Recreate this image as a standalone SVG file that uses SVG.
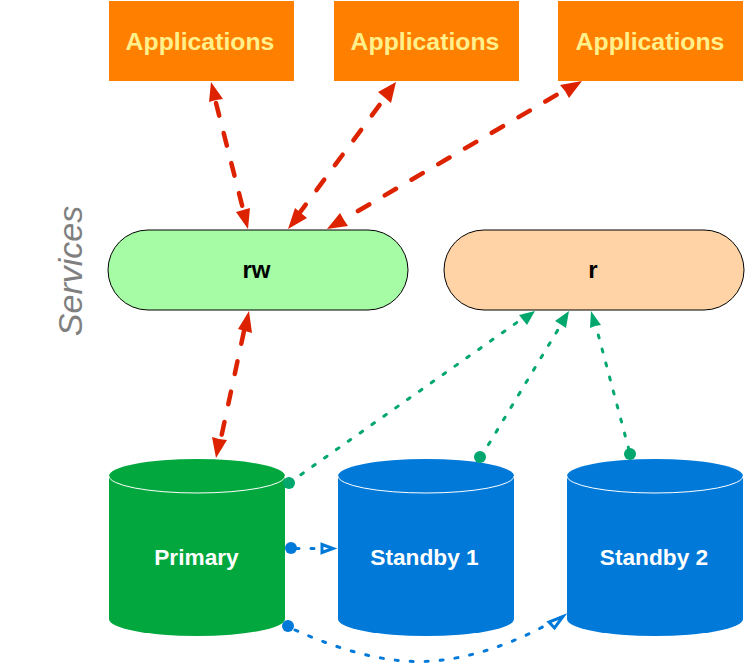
<svg xmlns="http://www.w3.org/2000/svg" width="745" height="664" viewBox="0 0 745 664">
<style>
text{font-family:"Liberation Sans",Arial,sans-serif;font-weight:bold;text-anchor:middle}
.app rect{fill:#ff7f00}
.app text{fill:#fff08c;font-size:24.800px}
.pill{stroke:#000;stroke-width:1}
.lbl{font-size:22.700px;fill:#fff}
.cap{fill:none;stroke:#fff;stroke-width:1}
.red{fill:none;stroke:#dd2200;stroke-width:4.500;stroke-dasharray:13 18;stroke-linecap:round}
.rh{fill:#dd2200}
.grn{fill:none;stroke:#02a76d;stroke-width:3;stroke-dasharray:3 11.500;stroke-linecap:round}
.gh{fill:#02a76d}
.blu{fill:none;stroke:#0079d9;stroke-width:3;stroke-dasharray:3 12;stroke-linecap:round}
.bh{fill:#fff;stroke:#0079d9;stroke-width:3}
</style>
<rect width="745" height="664" fill="#fff"/>
<g id="app1" class="app"><rect x="109" y="1" width="185" height="80"/><text x="200" y="50">Applications</text></g>
<g id="app2" class="app"><rect x="334" y="1" width="185" height="80"/><text x="425" y="50">Applications</text></g>
<g id="app3" class="app"><rect x="558" y="1" width="185" height="80"/><text x="650" y="50">Applications</text></g>
<g id="rw"><rect class="pill" x="108" y="230" width="300" height="80" rx="40" fill="#a5fca5"/><text x="256.500" y="278" font-size="24">rw</text></g>
<g id="r"><rect class="pill" x="444" y="230" width="300" height="80" rx="40" fill="#ffd3a6"/><text x="593" y="278" font-size="24">r</text></g>
<g id="services"><text transform="translate(82 271) rotate(-90)" style="font-weight:normal;font-style:italic;fill:#808080" font-size="34">Services</text></g>
<g id="primary"><path d="M109 476a88 17 0 0 1 176 0V619a88 17 0 0 1-176 0Z" fill="#02a83e"/><path class="cap" d="M109 476a88 17 0 0 0 176 0"/><text class="lbl" x="196.500" y="565">Primary</text></g>
<g id="standby1"><path d="M338 476a88 17 0 0 1 176 0V619a88 17 0 0 1-176 0Z" fill="#0079d9"/><path class="cap" d="M338 476a88 17 0 0 0 176 0"/><text class="lbl" x="424.500" y="565">Standby 1</text></g>
<g id="standby2"><path d="M567 476a88 17 0 0 1 176 0V619a88 17 0 0 1-176 0Z" fill="#0079d9"/><path class="cap" d="M567 476a88 17 0 0 0 176 0"/><text class="lbl" x="654" y="565">Standby 2</text></g>
<g id="connectors">
<path class="red" d="M216 103 243 209"/><path class="rh" d="M211 82 223 99 216 100 209 102ZM248 229 236 212 243 210 250 208Z"/>
<path class="red" d="M298 215 384 99"/><path class="rh" d="M396 82 391 103 384 97 378 92ZM288 229 295 208 301 213 307 218Z"/>
<path class="red" d="M358 211 565 90"/><path class="rh" d="M582 81 569 98 565 91 560 85ZM327 229 340 213 344 220 348 226Z"/>
<path class="red" d="M244 331 221 438"/><path class="rh" d="M249 311 252 333 245 331 238 329ZM216 458 212 437 219 439 227 440Z"/>
<path class="grn" d="M289 483 519 321"/><path class="gh" d="M535 311 519 315 523 320 527 325Z"/><circle class="gh" cx="289" cy="483" r="6"/>
<path class="grn" d="M481 457 559 328"/><path class="gh" d="M569 311 566 328 560 324 555 321Z"/><circle class="gh" cx="480" cy="457" r="6"/>
<path class="grn" d="M629 450 597 330"/><path class="gh" d="M591 311 601 325 595 326 590 328Z"/><circle class="gh" cx="630" cy="454" r="6"/>
<circle cx="291" cy="548" r="6" fill="#0079d9"/>
<path class="blu" d="M296 548.500H318"/><path class="bh" d="M322 544.500 333 548.500 322 552.500Z"/>
<circle cx="288" cy="626" r="6" fill="#0079d9"/>
<path class="blu" d="M295 630C335 648 380 662 420 661.500 465 661 510 645 550 623"/><path class="bh" d="M563 616.500 549 622 554.500 628Z"/>
</g>
</svg>
